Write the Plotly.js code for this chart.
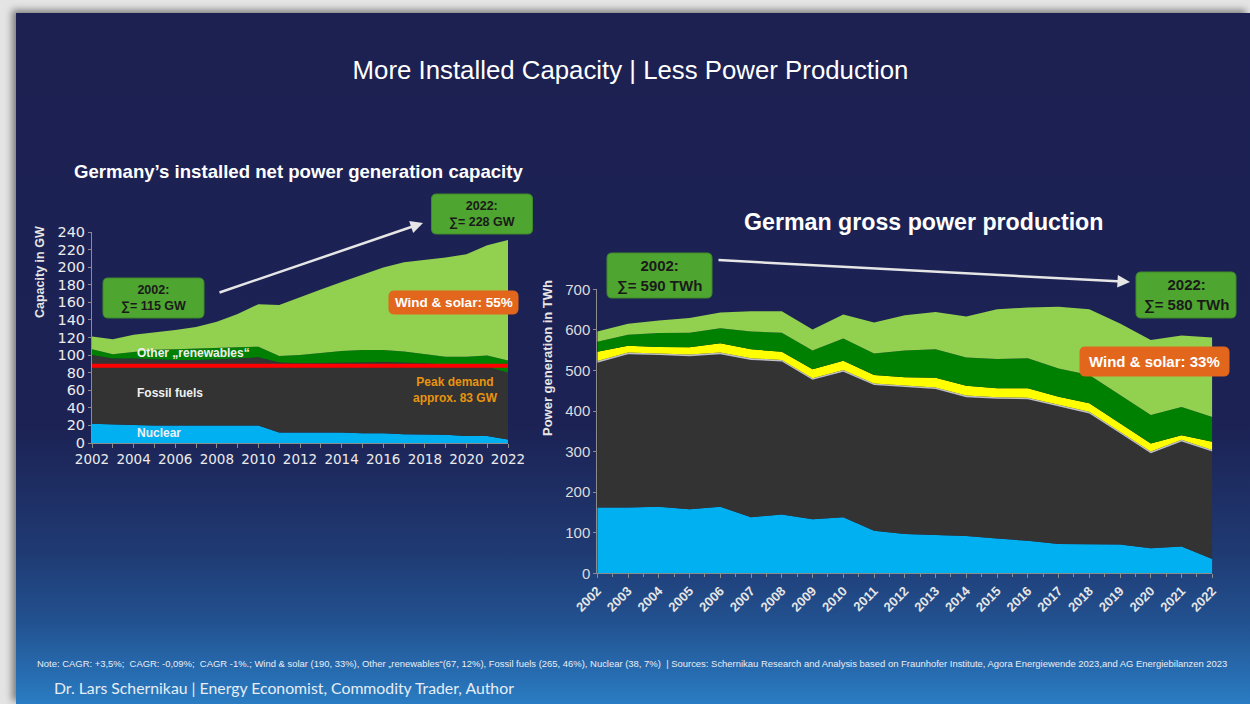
<!DOCTYPE html>
<html>
<head>
<meta charset="utf-8">
<script src="https://cdn.plot.ly/plotly-3.0.1.min.js"></script>
<style>
  html, body { margin:0; padding:0; width:1250px; height:704px; overflow:hidden; background:#e4e4e4; }
  #slide { position:absolute; left:16px; top:13px; width:1234px; height:691px;
           background: linear-gradient(to bottom, #1c2152 0%, #1c2254 60%, #1f3a73 78%, #22518f 88%, #2a7cc3 100%);
           box-shadow: -4px -3px 7px rgba(0,0,0,0.45); }
  #chart { position:absolute; left:0; top:0; width:1250px; height:704px; }
</style>
</head>
<body>
<div id="slide"></div>
<div id="chart"></div>
<script>
// ---------- DATA ----------
const years = [2002,2003,2004,2005,2006,2007,2008,2009,2010,2011,2012,2013,2014,2015,2016,2017,2018,2019,2020,2021,2022];

// Installed net capacity (GW)
const capNuclear   = [22,21,20.5,20,20,20,20,20,20,12,12,12,12,11,11,10,9.5,9.5,8,8,4];
const capFossil    = [78,75,75.5,75,74.5,74.5,75,76,77.5,79.5,78.7,78.7,78.7,80.5,81,81.5,81.2,79.5,79.7,79,76];
const capOtherRen  = [6.6,5,7.5,11,12,12.5,12.7,12.8,12,7.5,9.3,12,14,14.3,13.8,12.5,10.3,9,10.3,12.4,13.7];
const capWindSolar = [14.4,17,19.5,19.5,22,25,30.3,37.8,48.4,58,66,71.8,78.3,85.8,93.7,101.6,107,113,116.6,125.6,137.3];
const peakDemandYears = [2002, 2022];
const peakDemandGW    = [88, 88];

// Gross power production (TWh)
const genNuclear   = [162,162,164,158,164,138,145,133,138,105,97,94,92,86,80,72,72,71,62,66,35];
const genFossil    = [357,378,374,377,376,388,377,344,359,359,362,360,342,344,349,339,322,274,234,259,265];
const genOther     = [4,4,4,4,4,4,4,4,4,4,4,4,4,4,4,4,4,4,4,4,4];
const genHydro     = [23,17,16,18,23,22,20,22,23,21,20,24,24,22,23,20,21,21,20,11,20];
const genOtherRen  = [25,27,34,36,37,44,47,46,55,53,66,70,70,72,74,70,70,70,70,70,61];
const genWindSolar = [25,27,31,36,39,50,53,52,59,76,87,92,101,123,125,152,162,176,185,176,196];

const leftTicks  = [0,20,40,60,80,100,120,140,160,180,200,220,240];
const rightTicks = [0,100,200,300,400,500,600,700];
const yearLabels = years.map(String);

// ---------- STYLE ----------
const C = { nuclear:'#00b0f0', fossil:'#333333', other:'#bfbfbf', hydro:'#ffff00',
            otherRen:'#008000', windSolar:'#92d050' };
const W = 1250, H = 704;
const px = x => x / W;
const py = y => 1 - y / H;
const FONT = 'Liberation Sans, Arial, sans-serif';

function area(x, y, color, name, xa, ya, grp) {
  return { x, y, type:'scatter', mode:'lines', stackgroup:grp, name,
           line:{width:0, color}, fillcolor:color, xaxis:xa, yaxis:ya, hoverinfo:'skip' };
}

const traces = [
  area(years, capNuclear,   C.nuclear,   'Nuclear',           'x',  'y',  'cap'),
  area(years, capFossil,    C.fossil,    'Fossil fuels',      'x',  'y',  'cap'),
  area(years, capOtherRen,  C.otherRen,  'Other renewables',  'x',  'y',  'cap'),
  area(years, capWindSolar, C.windSolar, 'Wind & solar',      'x',  'y',  'cap'),
  { x: peakDemandYears, y: peakDemandGW, type:'scatter', mode:'lines', name:'Peak demand',
    line:{color:'#ff0000', width:4}, xaxis:'x', yaxis:'y', hoverinfo:'skip' },
  area(years, genNuclear,   C.nuclear,   'Nuclear',           'x2', 'y2', 'gen'),
  area(years, genFossil,    C.fossil,    'Fossil fuels',      'x2', 'y2', 'gen'),
  area(years, genOther,     C.other,     'Other',             'x2', 'y2', 'gen'),
  area(years, genHydro,     C.hydro,     'Hydro',             'x2', 'y2', 'gen'),
  area(years, genOtherRen,  C.otherRen,  'Other renewables',  'x2', 'y2', 'gen'),
  area(years, genWindSolar, C.windSolar, 'Wind & solar',      'x2', 'y2', 'gen')
];

const axisLine = '#8c8c8c';
const shapes = [];

// rounded rectangle (pixel geometry converted to paper coords)
function roundRect(cx, cy, w, h, r, fill, line) {
  const x0 = cx - w/2, x1 = cx + w/2, y0 = cy - h/2, y1 = cy + h/2;
  const P = (x, y) => px(x).toFixed(5) + ',' + py(y).toFixed(5);
  const path = 'M' + P(x0+r, y0) + ' L' + P(x1-r, y0) + ' Q' + P(x1, y0) + ' ' + P(x1, y0+r) +
               ' L' + P(x1, y1-r) + ' Q' + P(x1, y1) + ' ' + P(x1-r, y1) +
               ' L' + P(x0+r, y1) + ' Q' + P(x0, y1) + ' ' + P(x0, y1-r) +
               ' L' + P(x0, y0+r) + ' Q' + P(x0, y0) + ' ' + P(x0+r, y0) + ' Z';
  shapes.push({ type:'path', xref:'paper', yref:'paper', path, fillcolor:fill,
                line:{color:line||fill, width:1}, layer:'above' });
}

function box(text, cx, cy, w, h, bg, size, color, border) {
  roundRect(cx, cy, w, h, 5, bg, border);
  return { xref:'paper', yref:'paper', x:px(cx), y:py(cy), xanchor:'center', yanchor:'middle',
           text, showarrow:false, align:'center',
           font:{family:FONT, size, color} };
}
function label(text, x, y, size, color, anchor, fam) {
  return { xref:'paper', yref:'paper', x:px(x), y:py(y), xanchor:anchor||'left', yanchor:'middle',
           text, showarrow:false, align: anchor==='center' ? 'center' : 'left',
           font:{family:fam||FONT, size, color} };
}

const annotations = [
  // subtitles
  label('<b>Germany’s installed net power generation capacity</b>', 298, 171, 18.6, '#ffffff', 'center'),
  label('<b>German gross power production</b>', 923.5, 222, 23.2, '#ffffff', 'center'),
  // y titles
  { xref:'paper', yref:'paper', x:px(40), y:py(272), text:'<b>Capacity in GW</b>', textangle:-90,
    showarrow:false, xanchor:'center', yanchor:'middle', font:{family:FONT, size:12.5, color:'#e6e6e6'} },
  { xref:'paper', yref:'paper', x:px(547), y:py(358), text:'<b>Power generation in TWh</b>', textangle:-90,
    showarrow:false, xanchor:'center', yanchor:'middle', font:{family:FONT, size:13, color:'#e6e6e6'} },
  // left chart labels
  label('<b>Other „renewables“</b>', 135, 353, 12, '#f0f0f0'),
  label('<b>Fossil fuels</b>', 135, 393, 12, '#f0f0f0'),
  label('<b>Nuclear</b>', 135, 433, 12, '#f0f0f0'),
  label('<b>Peak demand<br>approx. 83 GW</b>', 455, 390, 12, '#e8940f', 'center'),
  // boxes
  box('<b>2002:<br>∑= 115 GW</b>', 153.5, 298, 101, 40, '#4ea52f', 12.5, '#1a1a1a', '#3f8a2a'),
  box('<b>2022:<br>∑= 228 GW</b>', 482, 214, 101, 40, '#4ea52f', 12.5, '#1a1a1a', '#3f8a2a'),
  box('<b>Wind & solar: 55%</b>', 453.5, 302.5, 129, 23, '#e2661c', 13.5, '#ffffff'),
  box('<b>2002:<br>∑= 590 TWh</b>', 659.5, 275.5, 105, 45, '#4ea52f', 15, '#1a1a1a', '#3f8a2a'),
  box('<b>2022:<br>∑= 580 TWh</b>', 1186, 295, 100, 46, '#4ea52f', 15, '#1a1a1a', '#3f8a2a'),
  box('<b>Wind & solar: 33%</b>', 1154.5, 361.5, 149, 29, '#e2661c', 15, '#ffffff'),
  // arrows
  { xref:'paper', yref:'paper', x:px(423), y:py(223), ax:-205, ay:70, axref:'pixel', ayref:'pixel',
    showarrow:true, arrowhead:2, arrowsize:1, arrowwidth:2.5, arrowcolor:'#e6e6e6', text:'' },
  { xref:'paper', yref:'paper', x:px(1130), y:py(282), ax:-413, ay:-22, axref:'pixel', ayref:'pixel',
    showarrow:true, arrowhead:2, arrowsize:1, arrowwidth:2.5, arrowcolor:'#e6e6e6', text:'' },
  // footer
  label('Note: CAGR: +3,5%;  CAGR: -0,09%;  CAGR -1%.; Wind & solar (190, 33%), Other „renewables“(67, 12%), Fossil fuels (265, 46%), Nuclear (38, 7%)  | Sources: Schernikau Research and Analysis based on Fraunhofer Institute, Agora Energiewende 2023,and AG Energiebilanzen 2023',
        35, 663, 9.45, '#e8eef6', 'left', 'Liberation Sans Narrow, Liberation Sans, Arial, sans-serif'),
  label('Dr. Lars Schernikau | Energy Economist, Commodity Trader, Author', 52, 687, 15.8, '#e6edf5', 'left', 'Lato, Open Sans, sans-serif')
];

const layout = {
  width: W, height: H,
  margin: {l:0, r:0, t:0, b:0},
  paper_bgcolor: 'rgba(0,0,0,0)',
  plot_bgcolor: 'rgba(0,0,0,0)',
  showlegend: false,
  title: { text:'More Installed Capacity | Less Power Production', x:px(630.5), xanchor:'center',
           y:py(70), yanchor:'middle', xref:'paper', yref:'paper',
           font:{family:FONT, size:25.8, color:'#ffffff'} },
  xaxis: { domain:[px(92), px(508)], range:[2002, 2022], anchor:'y',
           tickmode:'linear', tick0:2002, dtick:2, ticks:'outside', ticklen:4, tickcolor:axisLine,
           minor:{dtick:1, ticks:'outside', ticklen:4, tickcolor:axisLine},
           showline:true, linecolor:axisLine, linewidth:1, showgrid:false, zeroline:false,
           tickfont:{family:'DejaVu Sans, sans-serif', size:13.5, color:'#ececec'} },
  yaxis: { domain:[py(443), py(232)], range:[0, 240], anchor:'x',
           tickvals:leftTicks, ticks:'outside', ticklen:3, tickcolor:axisLine,
           showline:true, linecolor:axisLine, linewidth:1, showgrid:false, zeroline:false,
           tickfont:{family:'DejaVu Sans, sans-serif', size:14.5, color:'#ececec'} },
  xaxis2: { domain:[px(597.3), px(1212.3)], range:[2002, 2022], anchor:'y2',
            tickvals:years, ticktext:yearLabels, tickangle:-45, ticks:'outside', ticklen:4, tickcolor:axisLine,
            minor:{dtick:0.5, ticks:'outside', ticklen:3, tickcolor:axisLine},
            showline:true, linecolor:axisLine, linewidth:1, showgrid:false, zeroline:false,
            tickfont:{family:FONT, size:13, color:'#e6e6e6', weight:'bold'} },
  yaxis2: { domain:[py(573.3), py(289.3)], range:[0, 700], anchor:'x2',
            tickvals:rightTicks, ticks:'outside', ticklen:3, tickcolor:axisLine,
            showline:true, linecolor:axisLine, linewidth:1, showgrid:false, zeroline:false,
            tickfont:{family:FONT, size:15, color:'#dcdcdc'} },
  shapes,
  annotations
};

Plotly.newPlot('chart', traces, layout, {staticPlot:true, displayModeBar:false});
</script>
</body>
</html>
